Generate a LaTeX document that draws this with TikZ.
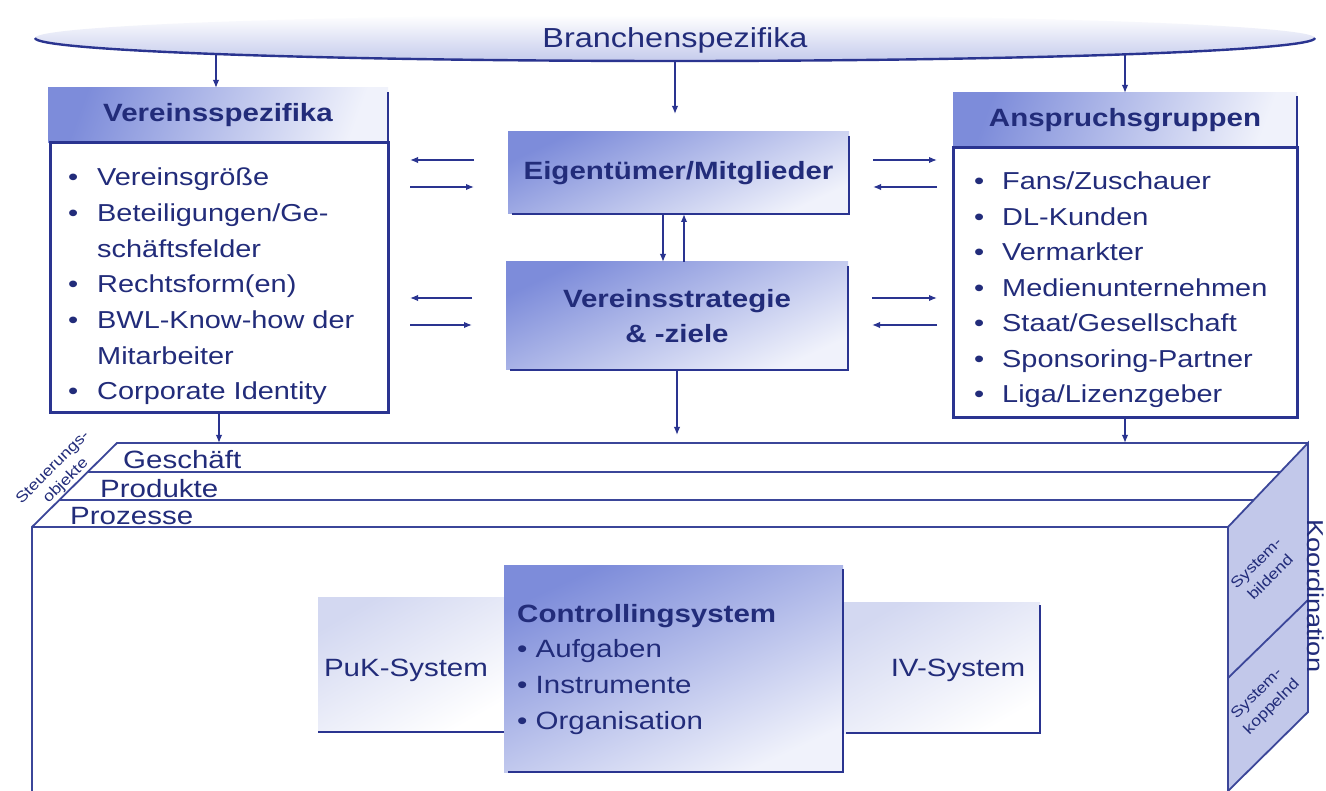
\documentclass[tikz,border=0pt]{standalone}
\usepackage{fontspec}
\setmainfont{Liberation Sans}[FakeStretch=1.18]
\usetikzlibrary{arrows.meta,shapes.geometric}
\definecolor{navy}{HTML}{2A3490}
\definecolor{ink}{HTML}{222C7A}
\definecolor{slabc}{HTML}{3B4699}
\definecolor{blueA}{HTML}{7D8CDA}
\definecolor{paleA}{HTML}{F0F2FB}
\definecolor{softA}{HTML}{D3D8F1}
\definecolor{face}{HTML}{C2C8EA}
\definecolor{ellc}{HTML}{C5CBEC}
\begin{document}
\begin{tikzpicture}[x=1pt,y=-1pt,
  arr/.style={-{Latex[length=8pt,width=6.5pt]}, draw=navy, line width=1.5pt},
  edgeline/.style={draw=navy, line width=2.8pt},
  framebox/.style={draw=navy, line width=3pt, fill=white},
  slab/.style={draw=slabc, line width=1.8pt},
  box/.style={inner sep=0pt, outer sep=0pt, anchor=north west},
  txt/.style={inner sep=0pt, text=ink},
  item/.style={txt, anchor=base west, font=\fontsize{24.5}{30}\selectfont},
  head/.style={txt, font=\fontsize{25}{30}\selectfont\bfseries},
  plain/.style={txt, font=\fontsize{25}{30}\selectfont},
  small/.style={txt, align=center, font=\fontsize{15}{15}\selectfont},
  headfill/.style={top color=blueA, bottom color=paleA, shading angle=70},
  midfill/.style={top color=blueA, bottom color=paleA, shading angle=25},
  softfill/.style={top color=softA, bottom color=white, shading angle=30},
]
\fill[white] (0,0) rectangle (1326,791);
\useasboundingbox (0,0) rectangle (1326,791);

% top ellipse: industry specifics
\node[ellipse, inner sep=0pt, minimum width=1280pt, minimum height=46pt,
      top color=white, bottom color=ellc] (branche) at (675,38) {};
\draw[navy, line width=2.4pt] (35,38) arc[start angle=180, end angle=0, x radius=640, y radius=23];
\node[txt, font=\fontsize{27.5}{30}\selectfont] (btext) at (675,40) {Branchenspezifika};
\coordinate (e1) at (216,54);
\coordinate (e2) at (675,61);
\coordinate (e3) at (1125,54);

% the 3D slab with the steering objects
\coordinate (slabtop) at (0,443);
\draw[slab] (32,791) -- (32,527) -- (117,443) -- (1308,443);
\draw[slab] (87.6,472) -- (1281.7,472);
\draw[slab] (59.3,500) -- (1254.4,500);
\draw[slab] (32,527) -- (1228,527);
\draw[slab, fill=face] (1228,791) -- (1228,527) -- (1308,443) -- (1308,712) -- cycle;
\draw[slab] (1228,678) -- (1308,600);
\node[plain, anchor=base west] (gesch) at (123,469) {Geschäft};
\node[plain, anchor=base west] (prod) at (100,497) {Produkte};
\node[plain, anchor=base west] (proz) at (70,524) {Prozesse};
\node[small, rotate=45] (steu1) at (53,468) {Steuerungs-};
\node[small, rotate=45] (steu2) at (66,481) {objekte};
\node[small, rotate=45] (sbild1) at (1257,564) {System-};
\node[small, rotate=45] (sbild2) at (1270,577) {bildend};
\node[small, rotate=45] (skopp1) at (1257,694) {System-};
\node[small, rotate=45] (skopp2) at (1272,707) {koppelnd};
\node[txt, rotate=-90, font=\fontsize{23}{25}\selectfont] (koord) at (1316,596) {Koordination};

% left block: club specifics
\node[box, headfill, minimum width=340pt, minimum height=55pt] (vsh) at (48,88) {};
\node[head] (vsht) at (vsh.center) {Vereinsspezifika};
\draw[edgeline] (388,92) -- (388,143);
\node[box, framebox, minimum width=338pt, minimum height=270pt] (vsc) at (50,143) {};
\node[item] (v1) at (68,186) {\makebox[29pt][l]{•}Vereinsgröße};
\node[item] (v2) at (68,221.7) {\makebox[29pt][l]{•}Beteiligungen/Ge-};
\node[item] (v3) at (97,257.4) {schäftsfelder};
\node[item] (v4) at (68,293) {\makebox[29pt][l]{•}Rechtsform(en)};
\node[item] (v5) at (68,328.7) {\makebox[29pt][l]{•}BWL-Know-how der};
\node[item] (v6) at (97,364.4) {Mitarbeiter};
\node[item] (v7) at (68,400) {\makebox[29pt][l]{•}Corporate Identity};

% right block: stakeholder groups
\node[box, headfill, minimum width=344pt, minimum height=55pt] (agh) at (953,93) {};
\node[head] (aght) at (agh.center) {Anspruchsgruppen};
\draw[edgeline] (1297,96) -- (1297,148);
\node[box, framebox, minimum width=344pt, minimum height=270pt] (agc) at (953,148) {};
\node[item] (a1) at (974,190) {\makebox[28pt][l]{•}Fans/Zuschauer};
\node[item] (a2) at (974,225.5) {\makebox[28pt][l]{•}DL-Kunden};
\node[item] (a3) at (974,261) {\makebox[28pt][l]{•}Vermarkter};
\node[item] (a4) at (974,296.5) {\makebox[28pt][l]{•}Medienunternehmen};
\node[item] (a5) at (974,332) {\makebox[28pt][l]{•}Staat/Gesellschaft};
\node[item] (a6) at (974,367.5) {\makebox[28pt][l]{•}Sponsoring-Partner};
\node[item] (a7) at (974,403) {\makebox[28pt][l]{•}Liga/Lizenzgeber};

% centre: owners and strategy
\node[box, midfill, minimum width=341pt, minimum height=82pt] (eig) at (508,132) {};
\draw[edgeline] (849,136) -- (849,214) -- (512,214);
\node[head] (eigt) at (eig.center) {Eigentümer/Mitglieder};
\node[box, midfill, minimum width=342pt, minimum height=108pt] (vst) at (506,262) {};
\draw[edgeline] (848,266) -- (848,370) -- (510,370);
\node[head, align=center, font=\fontsize{25}{35}\selectfont\bfseries] (vstt) at (vst.center) {Vereinsstrategie\\\& -ziele};

% controlling system with its neighbours
\node[box, softfill, minimum width=190pt, minimum height=135pt] (puk) at (318,597) {};
\draw[edgeline] (318,732) -- (508,732);
\node[plain] (pukt) at (406,670) {PuK-System};
\node[box, softfill, minimum width=197pt, minimum height=131pt] (iv) at (843,602) {};
\draw[edgeline] (1040,605) -- (1040,733) -- (846,733);
\node[plain] (ivt) at (958,670) {IV-System};
\node[box, midfill, minimum width=339pt, minimum height=207pt] (ctrl) at (504,565) {};
\draw[edgeline] (843,569) -- (843,772) -- (508,772);
\node[head, anchor=base west] (c0) at (517,622) {Controllingsystem};
\node[plain, anchor=base west] (c1) at (517,657) {• Aufgaben};
\node[plain, anchor=base west] (c2) at (517,693) {• Instrumente};
\node[plain, anchor=base west] (c3) at (517,729) {• Organisation};

% influence arrows
\coordinate (ya) at (0,160);
\coordinate (yb) at (0,187);
\coordinate (yc) at (0,298);
\coordinate (yd) at (0,325);
\draw[arr] (e1) -- (e1 |- vsh.north);
\draw[arr, shorten >=18pt] (e2) -- (e2 |- eig.north);
\draw[arr] (e3) -- (e3 |- agh.north);
\draw[arr, shorten <=34pt, shorten >=22pt] (eig.west |- ya) -- (vsc.east |- ya);
\draw[arr, shorten <=22pt, shorten >=34pt] (vsc.east |- yb) -- (eig.west |- yb);
\draw[arr, shorten <=34pt, shorten >=22pt] (vst.west |- yc) -- (vsc.east |- yc);
\draw[arr, shorten <=22pt, shorten >=34pt] (vsc.east |- yd) -- (vst.west |- yd);
\draw[arr, shorten <=24pt, shorten >=16pt] (eig.east |- ya) -- (agc.west |- ya);
\draw[arr, shorten <=16pt, shorten >=24pt] (agc.west |- yb) -- (eig.east |- yb);
\draw[arr, shorten <=24pt, shorten >=16pt] (vst.east |- yc) -- (agc.west |- yc);
\draw[arr, shorten <=16pt, shorten >=24pt] (agc.west |- yd) -- (vst.east |- yd);
\coordinate (xd) at (663,0);
\coordinate (xu) at (684,0);
\draw[arr] (eig.south -| xd) -- (vst.north -| xd);
\draw[arr] (vst.north -| xu) -- (eig.south -| xu);
\draw[arr, shorten >=8pt] (vst.south) -- (vst.south |- slabtop);
\draw[arr] (vsc.south) -- (vsc.south |- slabtop);
\draw[arr] (agc.south) -- (agc.south |- slabtop);
\end{tikzpicture}
\end{document}
